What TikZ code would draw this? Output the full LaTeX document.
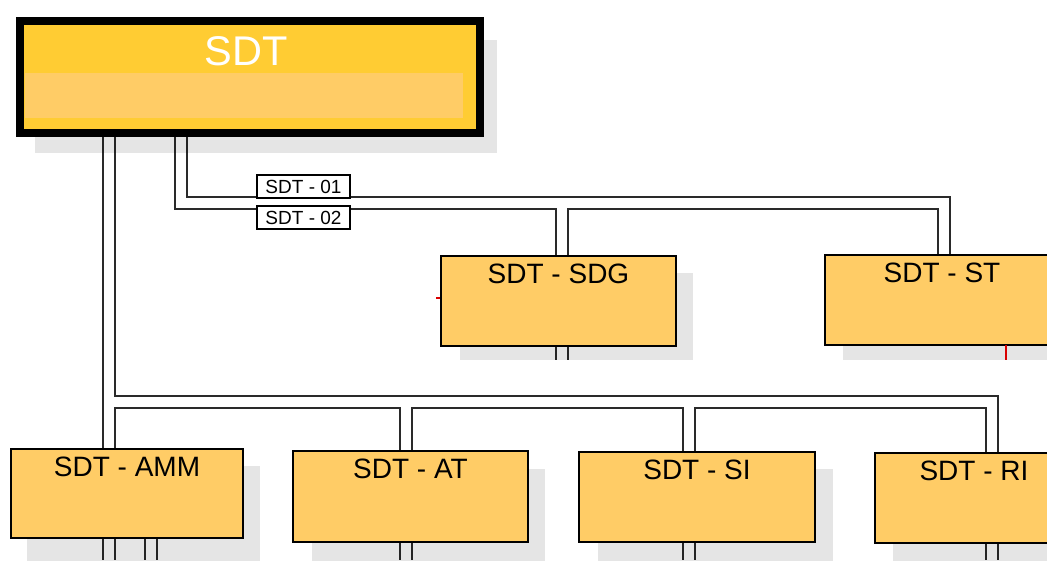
\documentclass[tikz,border=0pt]{standalone}
\usepackage{fontspec}
\setmainfont{Liberation Sans}
\definecolor{gold}{HTML}{FFCC33}
\definecolor{boxfill}{HTML}{FFCC66}
\definecolor{shade}{HTML}{E5E5E5}
\definecolor{linec}{HTML}{2A2A2A}
\tikzset{
  wire/.style={line width=14.5pt, draw=linec, line join=miter},
  wirein/.style={line width=9.5pt, draw=white, line join=miter},
  shadowbox/.style={fill=shade},
  unitbox/.style={draw=black, line width=2pt, fill=boxfill, rectangle, inner sep=0pt, anchor=north west},
  unitlbl/.style={anchor=base, font=\fontsize{28}{30}\selectfont, yshift=-28pt, inner sep=0pt},
  tag/.style={draw=black, line width=1.5pt, fill=white, minimum width=93pt, minimum height=23pt, inner sep=0pt, font=\fontsize{19}{21}\selectfont},
  tick/.style={draw=red!85!black, line width=1.2pt},
}
\begin{document}
\begin{tikzpicture}[x=1pt,y=-1pt]
\useasboundingbox (0,0) rectangle (1047,560);
\clip (0,0) rectangle (1047,560);
% junction coordinates
\coordinate (a1) at (181,129); \coordinate (a2) at (181,203);
\coordinate (a3) at (944,203); \coordinate (a4) at (944,255);
\coordinate (b1) at (562,203); \coordinate (b2) at (562,360);
\coordinate (c1) at (109,129); \coordinate (c2) at (109,560);
\coordinate (c3) at (109,402); \coordinate (c4) at (992,402); \coordinate (c5) at (992,560);
\coordinate (d1) at (406,402); \coordinate (d2) at (406,560);
\coordinate (e1) at (689,402); \coordinate (e2) at (689,560);
\coordinate (f1) at (151,537); \coordinate (f2) at (151,560);
% double connectors: dark pass then light pass
\foreach \s in {wire,wirein}{
  \draw[\s] (a1) -- (a2) -- (a3) -- (a4);
  \draw[\s] (b1) -- (b2);
  \draw[\s] (c1) -- (c2);
  \draw[\s] (c3) -- (c4) -- (c5);
  \draw[\s] (d1) -- (d2);
  \draw[\s] (e1) -- (e2);
  \draw[\s] (f1) -- (f2);
}
% shadows
\begin{scope}[blend mode=multiply]
  \fill[shadowbox] (35,40) rectangle (497,153);
  \fill[shadowbox] (460,273) rectangle (693,360);
  \fill[shadowbox] (843,272) rectangle (1060,360);
  \fill[shadowbox] (27,466) rectangle (260,570);
  \fill[shadowbox] (312,469) rectangle (545,570);
  \fill[shadowbox] (598,469) rectangle (833,570);
  \fill[shadowbox] (893,470) rectangle (1060,570);
\end{scope}
% top box
\node[draw=black, line width=8pt, fill=gold, rectangle, inner sep=0pt, anchor=north west,
      minimum width=460pt, minimum height=112pt] (sdt) at (16,17) {};
\fill[boxfill] (25,73) rectangle (463,118);
\node[anchor=base, text=white, font=\fontsize{41.5}{44}\selectfont, inner sep=0pt] (sdtlbl) at (246,65) {SDT};
% unit boxes
\node[unitbox, minimum width=235pt, minimum height=90pt, label={[unitlbl]north:SDT - SDG}] (sdg) at (440,255) {};
\node[unitbox, minimum width=234pt, minimum height=90pt, label={[unitlbl]north:SDT - ST}] (st) at (824,254) {};
\node[unitbox, minimum width=232pt, minimum height=89pt, label={[unitlbl]north:SDT - AMM}] (amm) at (10,448) {};
\node[unitbox, minimum width=235pt, minimum height=91pt, label={[unitlbl]north:SDT - AT}] (at) at (292,450) {};
\node[unitbox, minimum width=236pt, minimum height=90pt, label={[unitlbl]north:SDT - SI}] (si) at (578,451) {};
\node[unitbox, minimum width=198pt, minimum height=90pt, label={[unitlbl]north:SDT - RI}] (ri) at (874,452) {};
% connector tags
\node[tag] (t1) at (303.5,186.5) {SDT - 01};
\node[tag] (t2) at (303.5,217.5) {SDT - 02};
% small red marks
\coordinate (r1) at (436,298); \coordinate (r2) at (440,298);
\coordinate (r3) at (1006,345); \coordinate (r4) at (1006,360);
\draw[tick] (r1) -- (r2);
\draw[tick] (r3) -- (r4);
\end{tikzpicture}
\end{document}
